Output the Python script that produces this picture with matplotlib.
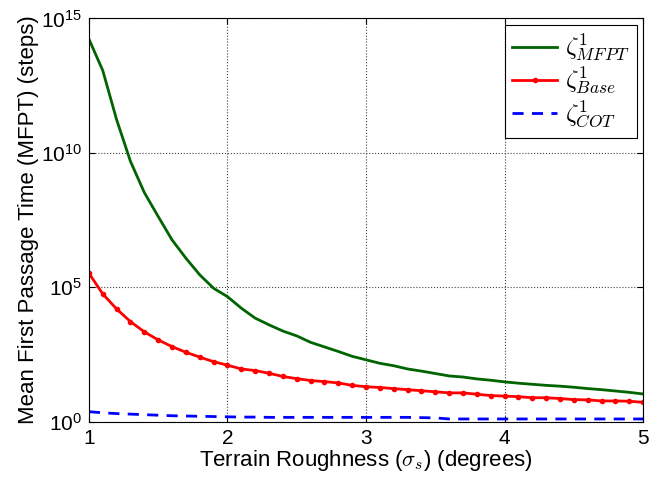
import numpy as np
import matplotlib
matplotlib.use('Agg')
import matplotlib.pyplot as plt

plt.rcParams['font.family'] = ['Liberation Sans', 'DejaVu Sans']
plt.rcParams['mathtext.fontset'] = 'cm'

# terrain roughness (degrees)
roughness = np.round(np.arange(1.0, 5.01, 0.1), 1)

# log10 of mean first passage time
mfpt_log10 = [14.23, 13.06, 11.23, 9.68, 8.52, 7.63, 6.76, 6.08, 5.46, 4.96,
              4.65, 4.22, 3.85, 3.60, 3.37, 3.19, 2.95, 2.78, 2.61, 2.43,
              2.30, 2.17, 2.08, 1.96, 1.88, 1.79, 1.70, 1.66, 1.59, 1.54,
              1.48, 1.43, 1.39, 1.35, 1.32, 1.28, 1.23, 1.19, 1.14, 1.09, 1.03]
base_log10 = [5.52, 4.75, 4.19, 3.72, 3.34, 3.04, 2.79, 2.58, 2.40, 2.23,
              2.10, 1.96, 1.90, 1.80, 1.68, 1.60, 1.53, 1.49, 1.44, 1.35,
              1.30, 1.27, 1.23, 1.19, 1.15, 1.11, 1.07, 1.07, 1.02, 0.97,
              0.95, 0.93, 0.89, 0.89, 0.86, 0.82, 0.81, 0.77, 0.77, 0.76, 0.72]
cot_log10 = [0.37, 0.33, 0.30, 0.28, 0.26, 0.24, 0.22, 0.21, 0.20, 0.19,
             0.18, 0.17, 0.17, 0.16, 0.16, 0.16, 0.16, 0.16, 0.16, 0.16,
             0.16, 0.16, 0.16, 0.16, 0.15, 0.14, 0.10, 0.10, 0.10, 0.10,
             0.10, 0.10, 0.10, 0.10, 0.10, 0.10, 0.10, 0.10, 0.10, 0.10, 0.10]

labels = [r'$\zeta^1_{MFPT}$', r'$\zeta^1_{Base}$', r'$\zeta^1_{COT}$']

fig = plt.figure(figsize=(6.49, 4.83), dpi=100)
ax = fig.add_axes([0.137, 0.127, 0.854, 0.835])

ax.semilogy(roughness, 10 ** np.array(mfpt_log10), color='#006400', lw=2, label=labels[0])
ax.semilogy(roughness, 10 ** np.array(base_log10), color='red', lw=2,
            marker='.', markersize=6, label=labels[1])
ax.semilogy(roughness, 10 ** np.array(cot_log10), color='blue', lw=2,
            ls=(0, (4, 3)), label=labels[2])

ax.set_xlim(1, 5)
ax.set_ylim(1, 1e15)
ax.set_xticks([1, 2, 3, 4, 5])
ax.set_yticks([1, 1e5, 1e10, 1e15])
ax.set_yticklabels([r'$\mathregular{10^{0}}$', r'$\mathregular{10^{5}}$',
                    r'$\mathregular{10^{10}}$', r'$\mathregular{10^{15}}$'])
ax.minorticks_off()
ax.tick_params(direction='in', labelsize=15, length=4, top=True, right=True, pad=5)
ax.grid(True, ls=':', color='#444444', lw=0.8)

ax.set_xlabel(r'Terrain Roughness ($\sigma_s$) (degrees)', fontsize=16, labelpad=0)
ax.set_ylabel('Mean First Passage Time (MFPT) (steps)', fontsize=16, labelpad=1)

leg = ax.legend(loc='upper right', fontsize=18, fancybox=False, framealpha=1,
                edgecolor='black', handlelength=1.8, handletextpad=0.3,
                borderaxespad=0.25, labelspacing=0.05, borderpad=0.3)
leg.get_frame().set_linewidth(0.8)

fig.savefig('out.png', dpi=100)
